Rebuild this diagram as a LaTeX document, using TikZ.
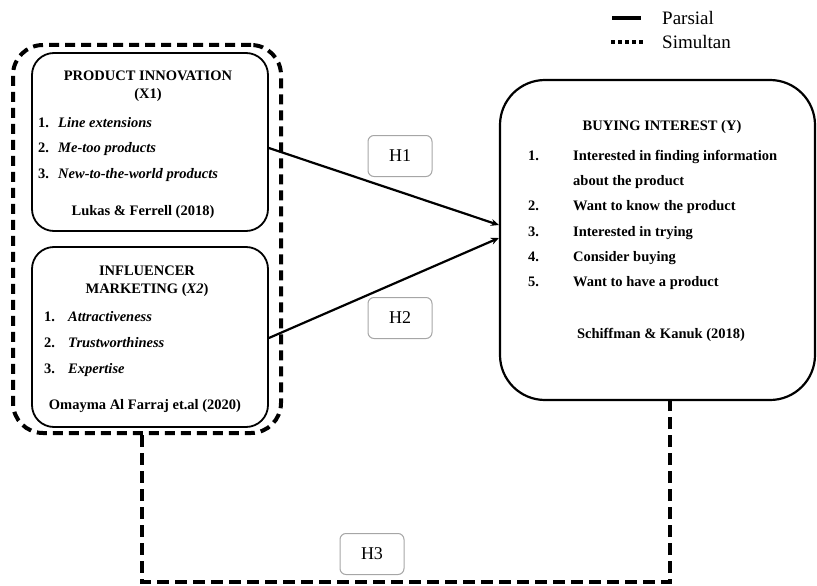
\documentclass[tikz,border=0pt]{standalone}
\usepackage{fontspec}
\setmainfont{Liberation Serif}
\usepackage{tikz}
\usetikzlibrary{arrows.meta}

\begin{document}
\begin{tikzpicture}[x=1pt,y=-1pt,
    simbox/.style={draw,line width=4pt,dash pattern=on 10pt off 6pt,rounded corners=30pt,inner sep=0pt},
    varbox/.style={draw,line width=1.8pt,rounded corners=22pt,inner sep=0pt},
    ybox/.style={draw,line width=2.2pt,rounded corners=45pt,inner sep=0pt},
    hbox/.style={draw=gray!70,line width=1pt,rounded corners=6pt,minimum width=64pt,minimum height=41pt,font=\fontsize{18}{20}\selectfont},
    txt/.style={inner sep=0pt,text height=10pt,text depth=3pt,font=\fontsize{14.5}{16}\selectfont\bfseries},
    itm/.style={txt,anchor=west,font=\fontsize{14.5}{16}\selectfont\bfseries\itshape},
    num/.style={txt,anchor=west},
    legtxt/.style={inner sep=0pt,anchor=west,font=\fontsize{19}{21}\selectfont},
    parline/.style={line width=2.2pt,-{Stealth[length=8pt,width=7pt]}},
    simline/.style={line width=4pt,dash pattern=on 12pt off 6pt}]
    \useasboundingbox (0,0) rectangle (817,586);

    % Legend
    \coordinate (parA) at (612,18);
    \coordinate (parB) at (641,18);
    \coordinate (simA) at (611,42);
    \coordinate (simB) at (643,42);
    \draw[line width=4pt] (parA) -- (parB);
    \draw[line width=4pt,dash pattern=on 3.5pt off 3.5pt] (simA) -- (simB);
    \node[legtxt] (parsial) at (662,18) {Parsial};
    \node[legtxt] (simultan) at (662,42) {Simultan};

    % Boxes
    \node[simbox,minimum width=268pt,minimum height=388pt] (sim) at (147,239) {};
    \node[varbox,minimum width=236pt,minimum height=178pt] (x1) at (150,142) {};
    \node[varbox,minimum width=236pt,minimum height=180pt] (x2) at (150,337) {};
    \node[ybox,minimum width=315pt,minimum height=320pt] (y) at (657.5,240) {};

    % Product innovation
    \node[txt] (x1title) at (148,77) {PRODUCT INNOVATION};
    \node[txt] (x1code) at (148,95) {(X1)};
    \foreach \n/\t/\y in {1/Line extensions/124,2/Me-too products/149,3/New-to-the-world products/175} {
        \node[num] (x1num\n) at (38,\y) {\n.};
        \node[itm] (x1item\n) at (58,\y) {\t};
    }
    \node[txt] (x1src) at (143,212) {Lukas \& Ferrell (2018)};

    % Influencer marketing
    \node[txt] (x2title) at (147,272) {INFLUENCER};
    \node[txt] (x2code) at (147,290) {MARKETING (\textit{X2})};
    \foreach \n/\t/\y in {1/Attractiveness/318,2/Trustworthiness/344,3/Expertise/370} {
        \node[num] (x2num\n) at (44,\y) {\n.};
        \node[itm] (x2item\n) at (68,\y) {\t};
    }
    \node[txt] (x2src) at (145,406) {Omayma Al Farraj et.al (2020)};

    % Buying interest
    \node[txt] (ytitle) at (662,127) {BUYING INTEREST (Y)};
    \node[num] (ynum1) at (528,157) {1.};
    \node[num] (yitem1) at (573,157) {Interested in finding information};
    \node[num] (yitem1b) at (573,182) {about the product};
    \foreach \n/\t/\y in {2/Want to know the product/207,3/Interested in trying/233,4/Consider buying/258,5/Want to have a product/283} {
        \node[num] (ynum\n) at (528,\y) {\n.};
        \node[num] (yitem\n) at (573,\y) {\t};
    }
    \node[txt] (ysrc) at (661,335) {Schiffman \& Kanuk (2018)};

    % Hypotheses
    \node[hbox] (h1) at (400,156) {H1};
    \node[hbox] (h2) at (400,318) {H2};
    \node[hbox] (h3) at (372,554) {H3};

    \draw[parline] ([yshift=-6pt]x1.east) -- ([yshift=15pt]y.west);
    \draw[parline] ([yshift=-1pt]x2.east) -- ([yshift=2pt]y.west);

    \coordinate (h3line) at (406,582);
    \draw[simline] ([xshift=-5pt]sim.south) |- (h3line) -| ([xshift=12.5pt]y.south);
\end{tikzpicture}
\end{document}
